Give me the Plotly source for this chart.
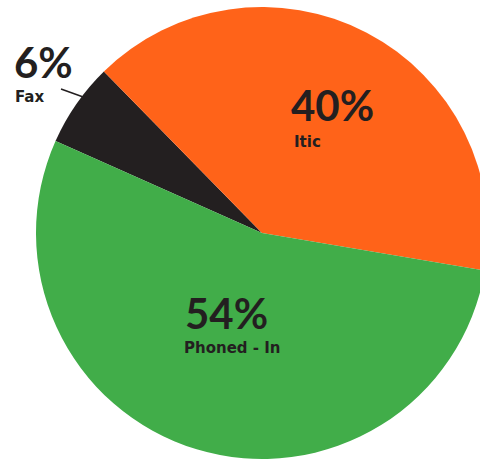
import plotly.graph_objects as go

# Share of orders by channel
channels = ["Fax", "Itic", "Phoned - In"]
shares = [6, 40, 54]
colors = ["#231F20", "#FF6319", "#41AD49"]

W, H = 530, 460
CX, CY, R = 262, 233, 226


def px(x):
    return x / W


def py(y):
    return 1 - y / H


fig = go.Figure(
    go.Pie(
        labels=channels,
        values=shares,
        sort=False,
        direction="clockwise",
        rotation=-66,
        marker=dict(colors=colors, line=dict(width=0)),
        textinfo="none",
        hoverinfo="label+percent",
        showlegend=False,
        domain=dict(x=[px(CX - R), px(CX + R)], y=[py(CY + R), py(CY - R)]),
    )
)

DARK = "#231F20"


def label(x, y, text, size, family):
    fig.add_annotation(
        x=px(x), y=py(y), xref="paper", yref="paper",
        text=f"<b>{text}</b>", showarrow=False,
        xanchor="left", yanchor="middle",
        font=dict(family=family, size=size, color=DARK),
    )


BIG, SMALL = "Lato", "DejaVu Sans"

label(289, 105, f"{shares[1]}%", 42, BIG)
label(292, 142, channels[1], 15, SMALL)
label(183, 313, f"{shares[2]}%", 42, BIG)
label(182, 348, channels[2], 15, SMALL)
label(12, 62, f"{shares[0]}%", 42, BIG)
label(13, 97, channels[0], 15, SMALL)

# leader line from the Fax label to its slice
fig.add_shape(
    type="line", xref="paper", yref="paper",
    x0=px(61), y0=py(89), x1=px(86), y1=py(98),
    line=dict(color=DARK, width=1.5),
)

fig.update_layout(
    width=W, height=H,
    margin=dict(l=0, r=0, t=0, b=0),
    paper_bgcolor="white",
    plot_bgcolor="white",
)

fig.write_html(
    "out.html",
    config={"displayModeBar": False},
    post_script="document.body.style.overflow='hidden';document.documentElement.style.overflow='hidden';",
)
